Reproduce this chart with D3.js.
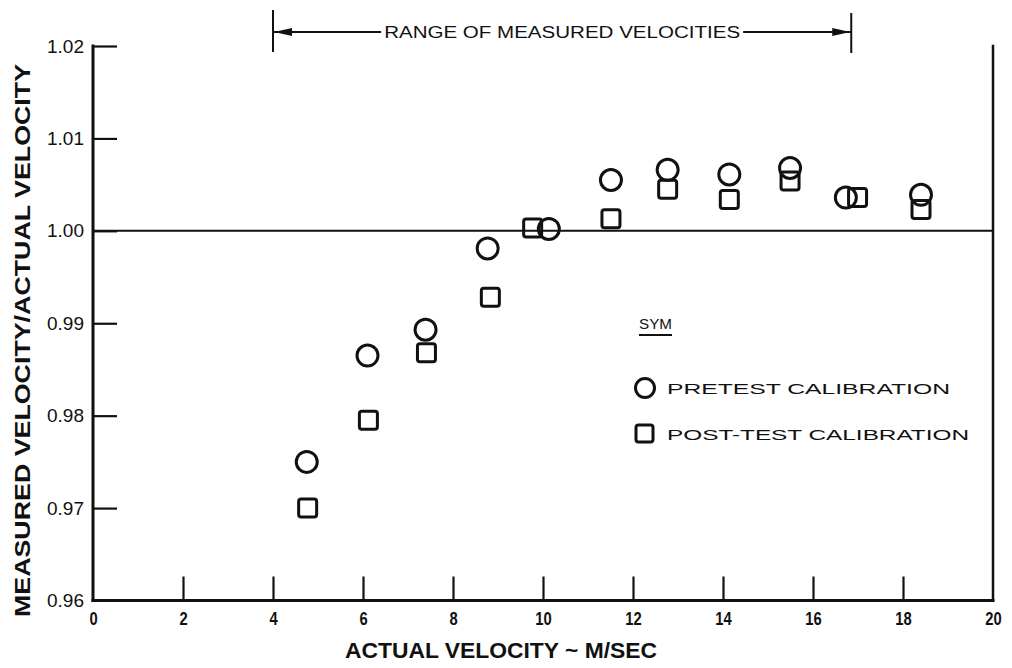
<!DOCTYPE html>
<html>
<head>
<meta charset="utf-8">
<script src="https://cdn.jsdelivr.net/npm/d3@7"></script>
<style>
  html, body { margin: 0; padding: 0; background: #fff; }
  svg { display: block; font-family: "Liberation Sans", Arial, Helvetica, sans-serif; }
</style>
</head>
<body>
<svg id="chart" width="1012" height="668"></svg>
<script>
// Axis ticks
const xTicks = [0, 2, 4, 6, 8, 10, 12, 14, 16, 18, 20];
const yTicks = [0.96, 0.97, 0.98, 0.99, 1.00, 1.01, 1.02];

// Pretest calibration: actual velocity (m/s) and measured/actual ratio
const preVelocity = [4.75, 6.10, 7.39, 8.77, 10.13, 11.51, 12.77, 14.14, 15.49, 16.73, 18.40];
const preRatio    = [0.9750, 0.9865, 0.9893, 0.9981, 1.0002, 1.0055, 1.0066, 1.0061, 1.0068, 1.0036, 1.0039];

// Post-test calibration
const postVelocity = [4.77, 6.12, 7.41, 8.83, 9.77, 11.51, 12.77, 14.14, 15.49, 16.99, 18.40];
const postRatio    = [0.9700, 0.9795, 0.9868, 0.9928, 1.0003, 1.0013, 1.0045, 1.0034, 1.0054, 1.0036, 1.0023];

// Span of velocities measured in the test
const measuredRange = [4, 16.85];

const ink = "#111";
const svg = d3.select("#chart");
const x = d3.scaleLinear().domain([0, 20]).range([93, 993]);
const y = d3.scaleLinear().domain([0.96, 1.02]).range([600.5, 46]);

// Bottom axis with inward ticks
const xAxis = svg.append("g")
  .attr("transform", `translate(0,${y(0.96)})`)
  .call(d3.axisBottom(x).tickValues(xTicks).tickSize(-24).tickSizeOuter(0).tickPadding(12).tickFormat(d3.format("d")));
xAxis.select(".domain").remove();
xAxis.selectAll(".tick line").attr("stroke", ink).attr("stroke-width", 2.2);
xAxis.selectAll(".tick").filter(d => d === 0 || d === 20).select("line").remove();
xAxis.selectAll("text")
  .attr("fill", ink)
  .style("font-size", "17.5px").style("font-weight", "bold")
  .attr("textLength", d => String(d).length * 8.2).attr("lengthAdjust", "spacingAndGlyphs");

// Left axis with inward ticks
const yAxis = svg.append("g")
  .attr("transform", `translate(${x(0)},0)`)
  .call(d3.axisLeft(y).tickValues(yTicks).tickSize(-24).tickSizeOuter(0).tickPadding(9).tickFormat(d3.format(".2f")));
yAxis.select(".domain").remove();
yAxis.selectAll(".tick line").attr("stroke", ink).attr("stroke-width", 2.2);
yAxis.selectAll(".tick").filter(d => d === 0.96).select("line").remove();
yAxis.selectAll("text").attr("fill", ink).style("font-size", "19px")
  .attr("textLength", 37).attr("lengthAdjust", "spacingAndGlyphs");

// Frame: left, bottom and right edges
const frame = svg.append("g").attr("stroke", ink).attr("fill", "none").attr("stroke-linecap", "square");
frame.append("line").attr("x1", x(0)).attr("x2", x(0)).attr("y1", y(1.02)).attr("y2", y(0.96)).attr("stroke-width", 3);
frame.append("line").attr("x1", x(0)).attr("x2", x(20)).attr("y1", y(0.96)).attr("y2", y(0.96)).attr("stroke-width", 3);
frame.append("line").attr("x1", x(20)).attr("x2", x(20)).attr("y1", y(1.02)).attr("y2", y(0.96)).attr("stroke-width", 2.5);

// Reference line at ratio 1.00
svg.append("line")
  .attr("x1", x(0)).attr("x2", x(20)).attr("y1", y(1.00)).attr("y2", y(1.00))
  .attr("stroke", ink).attr("stroke-width", 2);

// Range of measured velocities bracket
const rangeY = 32;
const rg = svg.append("g").attr("stroke", ink).attr("fill", ink);
const rx0 = x(measuredRange[0]), rx1 = x(measuredRange[1]);
const labelText = "RANGE OF MEASURED VELOCITIES";
const mid = (rx0 + rx1) / 2;
const labelW = 356;
rg.append("line").attr("x1", rx0).attr("x2", rx0).attr("y1", 10).attr("y2", 52).attr("stroke-width", 2);
rg.append("line").attr("x1", rx1).attr("x2", rx1).attr("y1", 13).attr("y2", 53).attr("stroke-width", 2);
rg.append("line").attr("x1", rx0).attr("x2", mid - labelW / 2 - 3).attr("y1", rangeY).attr("y2", rangeY).attr("stroke-width", 2);
rg.append("line").attr("x1", mid + labelW / 2 + 3).attr("x2", rx1).attr("y1", rangeY).attr("y2", rangeY).attr("stroke-width", 2);
rg.append("path").attr("stroke", "none")
  .attr("d", `M${rx0 + 1},${rangeY} L${rx0 + 19},${rangeY - 4} L${rx0 + 19},${rangeY + 4} Z`);
rg.append("path").attr("stroke", "none")
  .attr("d", `M${rx1 - 1},${rangeY} L${rx1 - 19},${rangeY - 4} L${rx1 - 19},${rangeY + 4} Z`);
svg.append("text")
  .attr("x", mid - labelW / 2).attr("y", rangeY + 6)
  .attr("textLength", labelW).attr("lengthAdjust", "spacingAndGlyphs")
  .style("font-size", "16px").attr("fill", ink)
  .text(labelText);

// Data markers (open symbols)
const pre = preVelocity.map((v, i) => ({ v, r: preRatio[i] }));
const post = postVelocity.map((v, i) => ({ v, r: postRatio[i] }));
const sq = 18;

svg.append("g").selectAll("rect").data(post).join("rect")
  .attr("x", d => x(d.v) - sq / 2).attr("y", d => y(d.r) - sq / 2)
  .attr("width", sq).attr("height", sq).attr("rx", 2.5)
  .attr("fill", "none").attr("stroke", ink).attr("stroke-width", 3);

svg.append("g").selectAll("circle").data(pre).join("circle")
  .attr("cx", d => x(d.v)).attr("cy", d => y(d.r)).attr("r", 10.5)
  .attr("fill", "none").attr("stroke", ink).attr("stroke-width", 3);

// Legend
const lg = svg.append("g").attr("fill", ink);
lg.append("text").attr("x", 639).attr("y", 329).style("font-size", "15px")
  .attr("textLength", 33).attr("lengthAdjust", "spacingAndGlyphs").text("SYM");
lg.append("line").attr("x1", 639).attr("x2", 672).attr("y1", 335).attr("y2", 335).attr("stroke", ink).attr("stroke-width", 2);
lg.append("circle").attr("cx", 645).attr("cy", 388).attr("r", 9.5)
  .attr("fill", "none").attr("stroke", ink).attr("stroke-width", 3);
lg.append("text").attr("x", 667).attr("y", 394).style("font-size", "15.5px")
  .attr("textLength", 283).attr("lengthAdjust", "spacingAndGlyphs").text("PRETEST CALIBRATION");
lg.append("rect").attr("x", 636).attr("y", 425).attr("width", 17).attr("height", 17).attr("rx", 2.5)
  .attr("fill", "none").attr("stroke", ink).attr("stroke-width", 3);
lg.append("text").attr("x", 667).attr("y", 440).style("font-size", "15.5px")
  .attr("textLength", 302).attr("lengthAdjust", "spacingAndGlyphs").text("POST-TEST CALIBRATION");

// Axis titles
svg.append("text")
  .attr("x", 345).attr("y", 658)
  .attr("textLength", 312).attr("lengthAdjust", "spacingAndGlyphs")
  .style("font-size", "22px").style("font-weight", "bold").attr("fill", ink)
  .text("ACTUAL VELOCITY ~ M/SEC");
svg.append("text")
  .attr("transform", "translate(30,617) rotate(-90)")
  .attr("textLength", 553).attr("lengthAdjust", "spacingAndGlyphs")
  .style("font-size", "22px").style("font-weight", "bold").attr("fill", ink)
  .text("MEASURED VELOCITY/ACTUAL VELOCITY");
</script>
</body>
</html>
